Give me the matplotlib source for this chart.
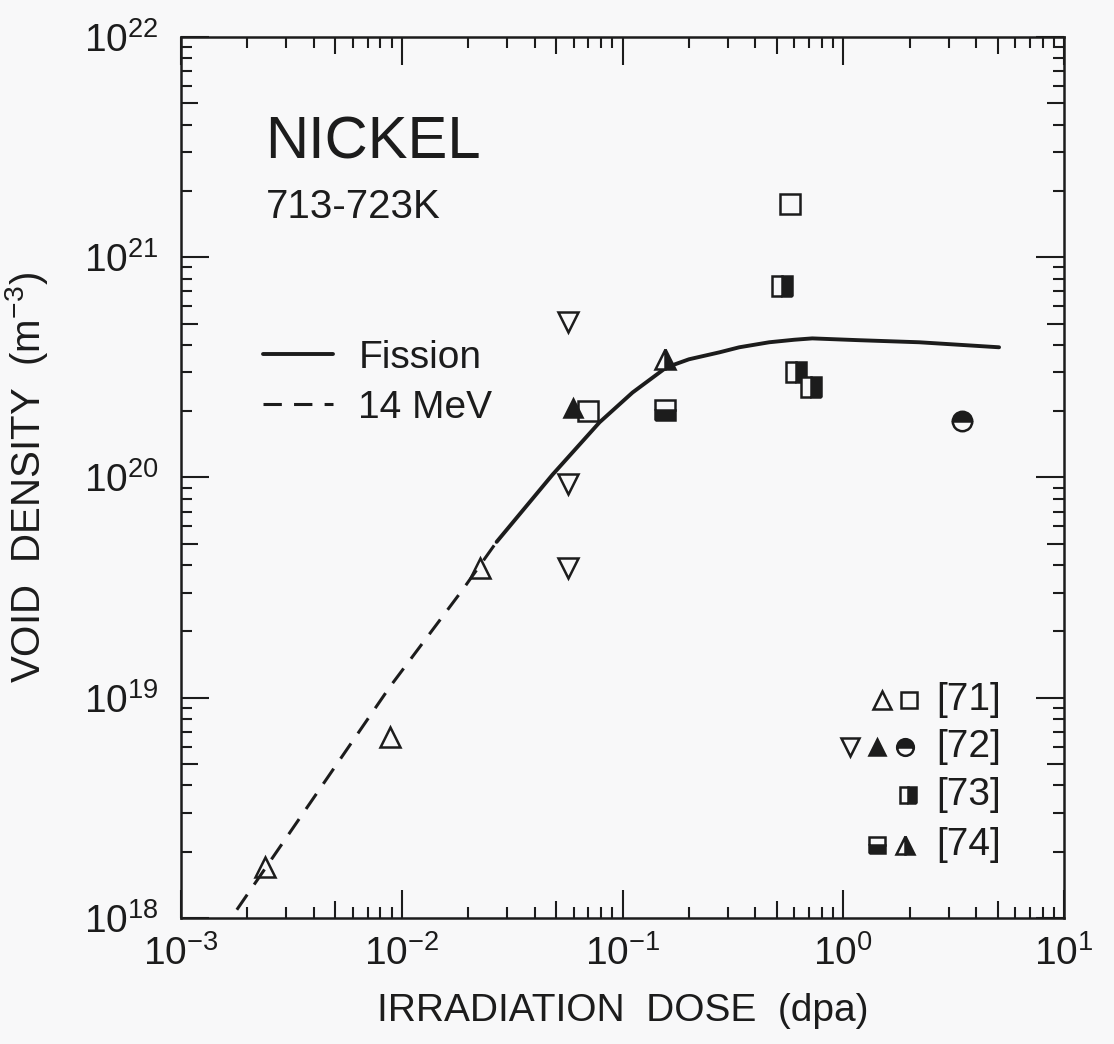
import math
import matplotlib
matplotlib.use('Agg')
import matplotlib.pyplot as plt
from matplotlib.ticker import FixedLocator, NullFormatter

plt.rcParams['font.family'] = ['Liberation Sans', 'DejaVu Sans']
plt.rcParams['mathtext.fontset'] = 'custom'
plt.rcParams['mathtext.rm'] = 'Liberation Sans'
plt.rcParams['mathtext.it'] = 'Liberation Sans:italic'
plt.rcParams['mathtext.bf'] = 'Liberation Sans:bold'

INK = '#1c1c1c'
PAPER = '#f8f8f9'

# model curves (dose in dpa, void density in m^-3)
fission_dose = [0.0269, 0.0482, 0.0787, 0.111, 0.158, 0.2, 0.275, 0.338, 0.462, 0.6, 0.724,
                1.18, 2.21, 5.08]
fission_density = [5.1e19, 1.03e20, 1.78e20, 2.43e20, 3.16e20, 3.44e20, 3.70e20, 3.90e20,
                   4.11e20, 4.22e20, 4.28e20, 4.2e20, 4.11e20, 3.9e20]
mev14_dose = [0.00179, 0.00883, 0.0189, 0.0269]
mev14_density = [1.09e18, 1.12e19, 3.1e19, 5.1e19]

# measurements, grouped by reference
ref71_tri_dose = [0.0024, 0.0088, 0.0225]
ref71_tri_density = [1.7e18, 6.6e18, 3.9e19]
ref71_sq_dose = [0.0695, 0.575]
ref71_sq_density = [2.0e20, 1.74e21]
ref72_dtri_dose = [0.0564, 0.0564, 0.0564]
ref72_dtri_density = [5.1e20, 9.3e19, 3.9e19]
ref72_tri_dose = [0.0594]
ref72_tri_density = [2.06e20]
ref72_circ_dose = [3.45]
ref72_circ_density = [1.8e20]
ref73_sq_dose = [0.53, 0.61, 0.716]
ref73_sq_density = [7.4e20, 3.0e20, 2.57e20]
ref74_sq_dose = [0.155]
ref74_sq_density = [2.02e20]
ref74_tri_dose = [0.155]
ref74_tri_density = [3.44e20]

ref_labels = ['[71]', '[72]', '[73]', '[74]']

x_ticks = [1e-3, 1e-2, 1e-1, 1e0, 1e1]
x_tick_labels = [r'$10^{-3}$', r'$10^{-2}$', r'$10^{-1}$', r'$10^{0}$', r'$10^{1}$']
y_ticks = [1e18, 1e19, 1e20, 1e21, 1e22]
y_tick_labels = [r'$10^{18}$', r'$10^{19}$', r'$10^{20}$', r'$10^{21}$', r'$10^{22}$']

mew = 1.8
open_tri = dict(marker='^', mfc='none', mec=INK, mew=mew, ms=15)
open_sq = dict(marker='s', mfc='none', mec=INK, mew=mew, ms=14)
open_dtri = dict(marker='v', mfc='none', mec=INK, mew=mew, ms=15)
solid_tri = dict(marker='^', mfc=INK, mec=INK, mew=mew, ms=13)
half_circ = dict(marker='o', fillstyle='top', mfc=INK, mfcalt=PAPER, mec=INK, mew=mew, ms=14)
half_sq_r = dict(marker='s', fillstyle='right', mfc=INK, mfcalt=PAPER, mec=INK, mew=mew, ms=14)
half_sq_b = dict(marker='s', fillstyle='bottom', mfc=INK, mfcalt=PAPER, mec=INK, mew=mew, ms=14)
half_tri_r = dict(marker='^', fillstyle='right', mfc=INK, mfcalt=PAPER, mec=INK, mew=mew, ms=15)

fig = plt.figure(figsize=(11.14, 10.44), dpi=100, facecolor=PAPER)
ax = fig.add_axes([0.1625, 0.1207, 0.7926, 0.8439], facecolor=PAPER)
ax.set_xscale('log')
ax.set_yscale('log')
ax.set_xlim(1e-3, 1e1)
ax.set_ylim(1e18, 1e22)

fission, = ax.plot(fission_dose, fission_density, color=INK, lw=2.8,
                   solid_capstyle='round', solid_joinstyle='round',
                   label='Fission', zorder=2)
mev14, = ax.plot(mev14_dose, mev14_density, color=INK, lw=2.2,
                 linestyle=(0, (6, 4)), label='14 MeV', zorder=2)

ax.plot(ref71_tri_dose, ref71_tri_density, ls='none', zorder=3, **open_tri)
ax.plot(ref71_sq_dose, ref71_sq_density, ls='none', zorder=3, **open_sq)
ax.plot(ref72_dtri_dose, ref72_dtri_density, ls='none', zorder=3, **open_dtri)
ax.plot(ref72_tri_dose, ref72_tri_density, ls='none', zorder=4, **solid_tri)
ax.plot(ref72_circ_dose, ref72_circ_density, ls='none', zorder=3, **half_circ)
ax.plot(ref73_sq_dose, ref73_sq_density, ls='none', zorder=3, **half_sq_r)
ax.plot(ref74_sq_dose, ref74_sq_density, ls='none', zorder=3, **half_sq_b)
ax.plot(ref74_tri_dose, ref74_tri_density, ls='none', zorder=3, **half_tri_r)

# axes frame and ticks
for s in ax.spines.values():
    s.set_linewidth(1.8)
    s.set_color(INK)

minor_x = [m * 10.0 ** e for e in range(-3, 1) for m in range(2, 10)]
minor_y = [m * 10.0 ** e for e in range(18, 22) for m in range(2, 10)]
ax.set_xticks(x_ticks, labels=x_tick_labels)
ax.set_yticks(y_ticks, labels=y_tick_labels)
ax.xaxis.set_minor_locator(FixedLocator(minor_x))
ax.yaxis.set_minor_locator(FixedLocator(minor_y))
ax.xaxis.set_minor_formatter(NullFormatter())
ax.yaxis.set_minor_formatter(NullFormatter())
ax.tick_params(which='both', direction='in', top=True, right=True,
               color=INK, width=1.5)
ax.tick_params(which='major', length=20, labelsize=28, labelcolor=INK)
ax.tick_params(axis='x', which='major', pad=12)
ax.tick_params(axis='y', which='major', pad=16)
ax.tick_params(which='minor', length=8)

# longer minor ticks at 5 x 10^n
for axis, locs in ((ax.xaxis, minor_x), (ax.yaxis, minor_y)):
    for tick, loc in zip(axis.get_minor_ticks(len(locs)), locs):
        if round(loc / 10 ** math.floor(math.log10(loc))) == 5:
            tick.tick1line.set_markersize(12)
            tick.tick2line.set_markersize(12)

ax.set_xlabel('IRRADIATION  DOSE  (dpa)', fontsize=28, color=INK)
ax.set_ylabel('VOID  DENSITY  (m$^{-3}$)', fontsize=29, color=INK)
ax.xaxis.set_label_coords(0.5, -0.085)
ax.yaxis.set_label_coords(-0.148, 0.5)

ax.text(0.095, 0.880, 'NICKEL', transform=ax.transAxes, fontsize=43,
        color=INK, ha='left', va='center')
ax.text(0.096, 0.807, '713-723K', transform=ax.transAxes, fontsize=29,
        color=INK, ha='left', va='center')

ax.legend(handles=[fission, mev14], loc='upper left', bbox_to_anchor=(0.093, 0.656),
          frameon=False, fontsize=28, handlelength=1.8, handletextpad=0.65,
          labelspacing=0.36, borderpad=0, borderaxespad=0, labelcolor=INK)

# key for the reference symbols, lower right
key_rows = [0.2474, 0.1941, 0.1396, 0.0829]
key_marks = [
    [(0.794, open_tri), (0.824, open_sq)],
    [(0.758, open_dtri), (0.788, solid_tri), (0.820, half_circ)],
    [(0.823, half_sq_r)],
    [(0.788, half_sq_b), (0.820, half_tri_r)],
]
for row_y, marks, lab in zip(key_rows, key_marks, ref_labels):
    for mx, style in marks:
        st = dict(style)
        st['ms'] = st['ms'] - 2
        ax.plot([mx], [row_y], transform=ax.transAxes, ls='none',
                clip_on=False, **st)
    ax.text(0.855, row_y, lab, transform=ax.transAxes, fontsize=28,
            color=INK, ha='left', va='center')

fig.savefig('out.png', dpi=100, facecolor=PAPER)
